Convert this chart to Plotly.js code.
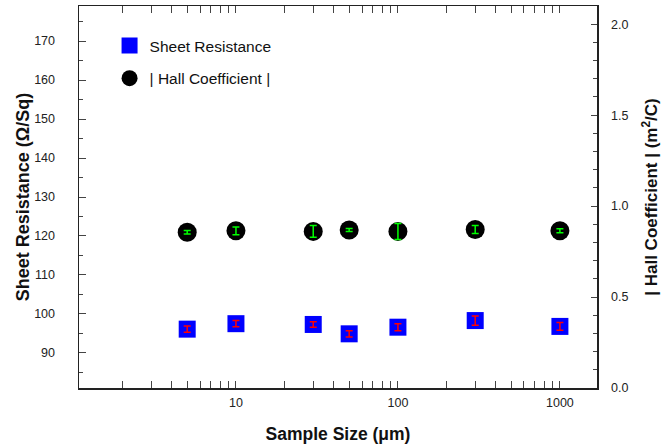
<!DOCTYPE html>
<html>
<head>
<meta charset="utf-8">
<script src="https://cdn.plot.ly/plotly-3.0.1.min.js"></script>
<style>html,body{margin:0;padding:0;background:#fff;}#chart{width:661px;height:446px;}</style>
</head>
<body>
<div id="chart"></div>
<script>
var sampleSize = [5, 10, 30, 50, 100, 300, 1000];
var sheetResistance = [96.1, 97.5, 97.3, 94.9, 96.6, 98.3, 96.8];
var sheetResistanceErr = [0.8, 0.8, 0.7, 0.8, 0.9, 1.2, 1.0];
var hallCoeff = [0.856, 0.864, 0.861, 0.869, 0.861, 0.871, 0.864];
var hallCoeffErr = [0.010, 0.021, 0.032, 0.008, 0.044, 0.022, 0.011];
var seriesNames = ['Sheet Resistance', '| Hall Coefficient |'];

var FONT = 'Liberation Sans, Arial, sans-serif';

var traces = [
  {x: sampleSize, y: sheetResistance, type: 'scatter', mode: 'markers', name: seriesNames[0],
   legendgroup: 'a', marker: {symbol: 'square', size: 17, color: '#0000ff'}, hoverinfo: 'skip'},
  {x: sampleSize, y: hallCoeff, type: 'scatter', mode: 'markers', name: seriesNames[1], yaxis: 'y2',
   legendgroup: 'b', marker: {symbol: 'circle', size: 19, color: '#000000'}, hoverinfo: 'skip'},
  {x: sampleSize, y: sheetResistance, type: 'scatter', mode: 'markers', showlegend: false,
   marker: {size: 1, opacity: 0}, hoverinfo: 'skip',
   error_y: {type: 'data', array: sheetResistanceErr, visible: true, color: '#ff0000', thickness: 1.5, width: 3.5}},
  {x: sampleSize, y: hallCoeff, type: 'scatter', mode: 'markers', showlegend: false, yaxis: 'y2',
   marker: {size: 1, opacity: 0}, hoverinfo: 'skip',
   error_y: {type: 'data', array: hallCoeffErr, visible: true, color: '#00ff00', thickness: 1.5, width: 3.5}}
];

var layout = {
  width: 661, height: 446,
  margin: {l: 79, r: 64, t: 6, b: 58},
  paper_bgcolor: '#ffffff', plot_bgcolor: '#ffffff',
  font: {family: FONT, color: '#222', size: 12.5},
  showlegend: true,
  legend: {x: 0.059, y: 0.94, xanchor: 'left', yanchor: 'top', bgcolor: 'rgba(0,0,0,0)',
           font: {family: FONT, size: 15.5, color: '#111'}, tracegroupgap: 9.5, itemsizing: 'trace'},
  xaxis: {
    type: 'log', range: [0.031, 3.229], showgrid: false, zeroline: false,
    showline: true, linecolor: '#222', linewidth: 1.5, mirror: 'allticks',
    ticks: 'inside', ticklen: 7, tickcolor: '#444', tickwidth: 1,
    tickvals: [10, 100, 1000], ticktext: ['10', '100', '1000'],
    minor: {tickvals: [2,3,4,5,6,7,8,9,20,30,40,50,60,70,80,90,200,300,400,500,600,700,800,900], ticks: 'inside', ticklen: 4, tickcolor: '#444', tickwidth: 1},
    ticklabelstandoff: 2,
    tickfont: {family: FONT, size: 12.5, color: '#222'},
    title: {text: 'Sample Size (\u03bcm)', font: {family: FONT, size: 17.5, color: '#111', weight: 'bold'}, standoff: 19}
  },
  yaxis: {
    range: [81, 179], showgrid: false, zeroline: false,
    showline: true, linecolor: '#222', linewidth: 1.5,
    ticks: 'inside', ticklen: 7, tickcolor: '#444', tickwidth: 1,
    tickvals: [90, 100, 110, 120, 130, 140, 150, 160, 170],
    minor: {dtick: 5, ticks: 'inside', ticklen: 4, tickcolor: '#444', tickwidth: 1},
    ticklabelstandoff: 20,
    tickfont: {family: FONT, size: 12.5, color: '#222'},
    title: {text: 'Sheet Resistance (\u03a9/Sq)', font: {family: FONT, size: 18, color: '#111', weight: 'bold'}, standoff: 0}
  },
  yaxis2: {
    overlaying: 'y', side: 'right', range: [0, 2.1], showgrid: false, zeroline: false,
    showline: true, linecolor: '#222', linewidth: 1.5,
    ticks: 'inside', ticklen: 6, tickcolor: '#444', tickwidth: 1,
    tickvals: [0, 0.5, 1.0, 1.5, 2.0], ticktext: ['0.0', '0.5', '1.0', '1.5', '2.0'],
    minor: {dtick: 0.1, ticks: 'inside', ticklen: 4, tickcolor: '#444', tickwidth: 1},
    ticklabelstandoff: 10,
    tickfont: {family: FONT, size: 12.5, color: '#222'},
    title: {text: '| Hall Coefficient | (m<sup>2</sup>/C)', font: {family: FONT, size: 17, color: '#111', weight: 'bold'}, standoff: 20}
  }
};

Plotly.newPlot('chart', traces, layout, {staticPlot: true, displayModeBar: false});
</script>
</body>
</html>
